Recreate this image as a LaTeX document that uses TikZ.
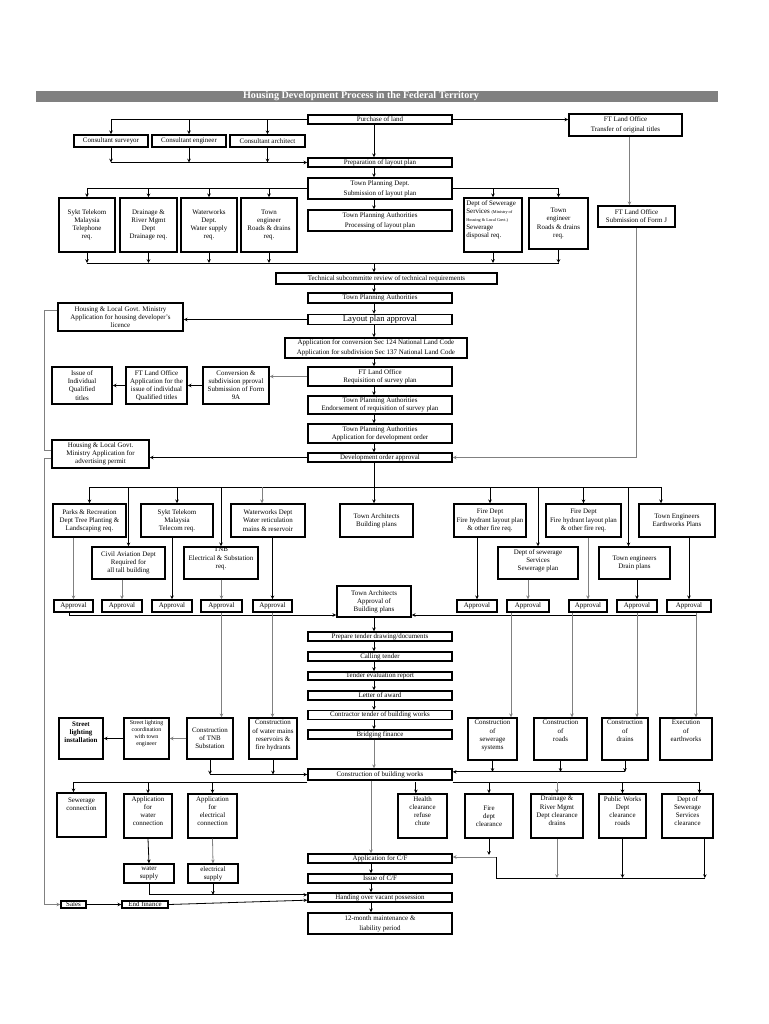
\documentclass[tikz,border=0pt]{standalone}
\usepackage{fontspec}
\setmainfont{Liberation Serif}
\usetikzlibrary{arrows.meta}
\definecolor{lngray}{gray}{0.5}
\newcommand{\boxfont}{\fontsize{5.2}{6.1}\selectfont}
\newcommand{\pbox}[7][]{\node[box,minimum width={(#5-#3)*0.75pt},minimum height={(#6-#4)*0.75pt},#1] (#2) at ({(#3+#5)/2},{(#4+#6)/2}) {#7};}

\begin{document}
\begin{tikzpicture}[x=0.75pt,y=-0.75pt,line width=0.6pt,>={Stealth[length=2.8pt,width=2.6pt]},
box/.style={draw,line width=1.1pt,inner sep=0.8pt,align=center,font=\boxfont},
lbl/.style={anchor=north,align=center,font=\boxfont,inner sep=2pt},
tl/.style={label={[lbl]north:{#1}}},
gl/.style={draw=lngray}]
\useasboundingbox (0,0) rectangle (768,1024);
\fill[lngray] (36,91) rectangle (718,102);
\node[text=white,inner sep=0pt,font=\fontsize{7.6}{8}\selectfont\bfseries] (title) at (361,96.5) {Housing Development Process in the Federal Territory};
\coordinate (sp) at (374,0);
\coordinate (sp2) at (371,0);

\pbox{pland}{308}{115}{452}{124}{Purchase of land}
\pbox{ftrans}{569}{114}{682}{136}{FT Land Office\\[1.5pt]Transfer of original titles}
\pbox{csurv}{74}{135}{148}{147}{Consultant surveyor}
\pbox{ceng}{152}{135}{226}{147}{Consultant engineer}
\pbox{carch}{230}{135}{305}{147}{Consultant architect}
\pbox{prep}{308}{158}{452}{167}{Preparation of layout plan}
\pbox{tpdept}{308}{178}{452}{199}{Town Planning Dept.\\[1.5pt]Submission of layout plan}
\pbox{tpproc}{308}{210}{452}{231}{Town Planning Authorities\\[1.5pt]Processing of layout plan}
\pbox{stel}{59}{198}{115}{252}{Sykt Telekom\\Malaysia\\Telephone\\req.}
\pbox{drain}{120}{198}{177}{252}{Drainage \&\\River Mgmt\\Dept\\Drainage req.}
\pbox{water}{181}{198}{237}{252}{Waterworks\\Dept.\\Water supply\\req.}
\pbox{teng}{241}{198}{297}{252}{Town\\engineer\\Roads \& drains\\req.}
\pbox[label={[lbl,anchor=north west,align=left]north west:{Dept of Sewerage\\Services {\fontsize{3.2}{4}\selectfont(Ministry of}\\{\fontsize{3.2}{4}\selectfont Housing \& Local Govt.)}\\Sewerage\\disposal req.}}]{dsew}{464}{198}{522}{252}{}
\pbox{teng2}{529}{198}{588}{249}{Town\\engineer\\Roads \& drains\\req.}
\pbox{formj}{598}{206}{675}{227}{FT Land Office\\Submission of Form J}
\pbox{tech}{276}{273}{497}{284}{Technical subcommitte review of technical requirements}
\pbox{tpa}{308}{293}{452}{303}{Town Planning Authorities}
\pbox[font=\fontsize{6.5}{7}\selectfont]{lpa}{308}{315}{452}{324}{Layout plan approval}
\pbox{hlic}{58}{303}{183}{331}{Housing \& Local Govt. Ministry\\Application for housing developer's\\licence}
\pbox{appconv}{285}{338}{467}{358}{Application for conversion Sec 124 National Land Code\\[1.5pt]Application for subdivision Sec 137 National Land Code}
\pbox{reqs}{308}{367}{452}{386}{FT Land Office\\Requisition of survey plan}
\pbox{endo}{308}{396}{452}{414}{Town Planning Authorities\\Endorsement of requisition of survey plan}
\pbox{appdo}{308}{424}{452}{443}{Town Planning Authorities\\Application for development order}
\pbox{doa}{308}{453}{452}{462}{Development order approval}
\pbox{iss}{52}{367}{112}{404}{Issue of\\Individual\\Qualified\\titles}
\pbox{ftapp}{126}{367}{187}{404}{FT Land Office\\Application for the\\issue of individual\\Qualified titles}
\pbox{conv}{203}{367}{269}{404}{Conversion \&\\subdivision pproval\\Submission of Form\\9A}
\pbox{hadv}{52}{440}{149}{468}{Housing \& Local Govt.\\Ministry Application for\\advertising permit}

\pbox{parks}{53}{504}{126}{537}{Parks \& Recreation\\Dept Tree Planting \&\\Landscaping req.}
\pbox{stel2}{141}{504}{213}{537}{Sykt Telekom\\Malaysia\\Telecom req.}
\pbox{water2}{231}{504}{305}{537}{Waterworks Dept\\Water reticulation\\mains \& reservoir}
\pbox{tabp}{340}{504}{413}{537}{Town Architects\\Building plans}
\pbox{fire1}{454}{504}{526}{537}{Fire Dept\\Fire hydrant layout plan\\\& other fire req.}
\pbox{fire2}{546}{504}{621}{537}{Fire Dept\\Fire hydrant layout plan\\\& other fire req.}
\pbox{teart}{639}{504}{715}{537}{Town Engineers\\Earthworks Plans}
\pbox{civil}{92}{547}{165}{579}{Civil Aviation Dept\\Required for\\all tall building}
\pbox[label={[lbl,inner sep=0.5pt]north:{TNB\\Electrical \& Substation\\req.}}]{tnb}{184}{547}{258}{579}{}
\pbox[tl={Dept of sewerage\\Services\\Sewerage plan}]{dsew2}{498}{547}{578}{579}{}
\pbox{tdrain}{599}{547}{670}{579}{Town engineers\\Drain plans}
\foreach \n/\xa/\xb in {a1/54/93,a2/102/142,a3/152/192,a4/201/242,a5/253/292,a6/457/497,a7/507/549,a8/569/607,a9/617/657,a10/667/711}
  {\pbox{\n}{\xa}{600}{\xb}{612}{Approval}}
\pbox{taapp}{337}{586}{411}{617}{Town Architects\\Approval of\\Building plans}

\pbox{ptd}{308}{632}{452}{641}{Prepare tender drawing/documents}
\pbox{ct}{308}{652}{452}{661}{Calling tender}
\pbox{ter}{308}{672}{452}{680}{Tender evaluation report}
\pbox{loa}{308}{691}{452}{700}{Letter of award}
\pbox{ctb}{308}{711}{452}{719}{Contractor tender of building works}
\pbox{bf}{308}{730}{452}{739}{Bridging finance}
\pbox[label={[lbl,font=\boxfont\bfseries,inner sep=3pt]north:{Street\\lighting\\installation}}]{sli}{59}{718}{103}{759}{}
\pbox[label={[lbl,font=\fontsize{4.4}{5.3}\selectfont]north:{Street lighting\\coordination\\with town\\engineer}}]{slc}{124}{718}{169}{759}{}
\pbox{ctnb}{187}{718}{233}{759}{Construction\\of TNB\\Substation}
\pbox[tl={Construction\\of water mains\\reservoirs \&\\fire hydrants}]{cwm}{249}{718}{297}{759}{}
\pbox[tl={Construction\\of\\sewerage\\systems}]{csew}{468}{718}{517}{760}{}
\pbox[tl={Construction\\of\\roads}]{croad}{534}{718}{587}{760}{}
\pbox[tl={Construction\\of\\drains}]{cdrain}{602}{718}{648}{760}{}
\pbox[tl={Execution\\of\\earthworks}]{eearth}{660}{718}{712}{760}{}

\pbox{cbw}{308}{769}{452}{780}{Construction of building works}
\pbox[label={[lbl,inner sep=4pt]north:{Sewerage\\connection}}]{scon}{57}{793}{106}{837}{}
\pbox[tl={Application\\for\\water\\connection}]{awc}{124}{794}{172}{838}{}
\pbox[tl={Application\\for\\electrical\\connection}]{aec}{188}{794}{237}{838}{}
\pbox{wsup}{124}{864}{174}{883}{water\\supply}
\pbox{esup}{188}{864}{238}{883}{electrical\\supply}
\pbox{sales}{61}{901}{86}{908}{Sales}
\pbox{efin}{122}{901}{168}{908}{End finance}
\pbox[tl={Health\\clearance\\refuse\\chute}]{hcl}{398}{794}{447}{838}{}
\pbox{fcl}{465}{794}{513}{838}{Fire\\dept\\clearance}
\pbox[tl={Drainage \&\\River Mgmt\\Dept clearance\\drains}]{dcl}{531}{794}{583}{838}{}
\pbox[tl={Public Works\\Dept\\clearance\\roads}]{pcl}{599}{794}{646}{838}{}
\pbox[tl={Dept of\\Sewerage\\Services\\clearance}]{scl}{662}{794}{713}{838}{}
\pbox{acf}{308}{854}{452}{863}{Application for C/F}
\pbox{icf}{308}{874}{452}{883}{Issue of C/F}
\pbox{hov}{308}{893}{452}{902}{Handing over vacant possession}
\pbox{mnt}{308}{913}{452}{934}{12-month maintenance \&\\[1.5pt]liability period}

\foreach \a/\b in {pland/prep,prep/tpdept,tpdept/tpproc,tech/tpa,tpa/lpa,lpa/appconv,appconv/reqs,reqs/endo,endo/appdo,appdo/doa,doa/tabp,taapp/ptd,ptd/ct,ct/ter,ter/loa,loa/ctb,ctb/bf}
  {\draw[->] (\a.south -| sp) -- (\b.north -| sp);}
\draw[->] (pland.east) -- (pland.east -| ftrans.west);
\draw[->] (pland.west) -| (csurv.north);
\foreach \n in {ceng,carch} {\draw[->] (\n.north |- pland.west) -- (\n.north);}
\foreach \n in {csurv,ceng,carch} {\draw[->] (\n.south) -- (\n.south |- prep.west);}
\draw[->] (csurv.south |- prep.west) -- (prep.west);
\draw[->] (tpdept.west) -| (stel.north);
\foreach \n in {drain,water,teng} {\draw[->] (\n.north |- tpdept.west) -- (\n.north);}
\draw[->] (tpdept.east) -| (teng2.north);
\draw[->] (dsew.north |- tpdept.east) -- (dsew.north);
\coordinate (b1) at (374,263);
\foreach \n in {stel,drain,water,teng,dsew,teng2} {\draw[->] (\n.south) -- (\n.south |- b1);}
\draw (stel.south |- b1) -- (teng2.south |- b1);
\draw[->] (b1) -- (tech.north -| b1);
\draw[gl,->] ([xshift=3pt]ftrans.south) -- ([xshift=3pt]ftrans.south |- formj.north);
\draw[gl,->] (formj.south) |- (doa.east);
\draw[->] (lpa.west) -- (lpa.west -| hlic.east);
\draw[gl,->] (reqs.west) -- (reqs.west -| conv.east);
\draw[->] (conv.west) -- (ftapp.east);
\draw[->] (ftapp.west) -- (iss.east);
\draw[->] (doa.west) -- (doa.west -| hadv.east);
\draw[gl] ([yshift=5pt]hlic.west) -| ([xshift=-5.25pt,yshift=3pt]hadv.west) -- ([yshift=3pt]hadv.west);
\draw[gl,->] ([yshift=-3pt]hadv.west) -- ++(-5.25pt,0) |- (sales.west);

\coordinate (b2) at (374,487);
\draw (parks.north |- b2) -- ([xshift=-12pt]teart.north |- b2);
\foreach \n in {parks,civil,stel2,tnb,fire1,dsew2,fire2} {\draw[->] (\n.north |- b2) -- (\n.north);}
\draw[gl,->] ([xshift=-4.5pt]water2.north |- b2) -- ([xshift=-4.5pt]water2.north);
\draw[->] ([xshift=-4.5pt]tdrain.north |- b2) -- ([xshift=-4.5pt]tdrain.north);
\draw[->] ([xshift=-12pt]teart.north |- b2) -- ([xshift=-12pt]teart.north);
\foreach \a/\b in {a1/parks,a2/civil,a4/tnb,a7/dsew2,a8/fire2} {\draw[gl,->] (\a.north |- \b.south) -- (\a.north);}
\foreach \a/\b in {a3/stel2,a5/water2,a6/fire1,a9/tdrain,a10/teart} {\draw[->] (\a.north |- \b.south) -- (\a.north);}
\coordinate (b3l) at (69,615);
\coordinate (b3r) at (696,615);
\draw[->] (a1.south -| b3l) -- (b3l) -- (b3l -| taapp.west);
\draw[->] (b3r) -- (b3r -| taapp.east);
\draw[gl,->] (a4.south) -- (a4.south |- ctnb.north);
\draw[gl,->] (a5.south) -- (a5.south |- cwm.north);
\draw[gl,->] ([xshift=-12.75pt]a7.south) -- ([xshift=-12.75pt]a7.south |- csew.north);
\draw[gl,->] ([xshift=-12pt]a8.south) -- ([xshift=-12pt]a8.south |- croad.north);
\draw[gl,->] (a9.south) -- (a9.south |- cdrain.north);
\draw[gl,->] (a10.south -| b3r) -- (b3r |- eearth.north);

\draw[gl,->] (ctnb.west) -- (slc.east);
\draw[->] (slc.west) -- (sli.east);
\foreach \n in {ctnb,cwm} {\draw[->] (\n.south) -- (\n.south |- cbw.west);}
\draw[->] (ctnb.south |- cbw.west) -- (cbw.west);
\foreach \n in {csew,croad,cdrain} {\draw[->] (\n.south) -- ([yshift=2pt]\n.south |- cbw.east);}
\draw[->] ([yshift=2pt]cdrain.south |- cbw.east) -- ([yshift=2pt]cbw.east);
\draw[gl,->] (bf.south -| sp) -- (cbw.north -| sp);

\coordinate (b4) at (371,782);
\draw (cbw.south west |- b4) -- ([xshift=-6pt]scon.north |- b4);
\draw[->] ([xshift=-6pt]scon.north |- b4) -- ([xshift=-6pt]scon.north);
\foreach \n in {awc,aec} {\draw[->] (\n.north |- b4) -- (\n.north);}
\draw (cbw.south east |- b4) -- ([xshift=9pt]scl.north |- b4);
\foreach \n in {fcl,pcl} {\draw[->] (\n.north |- b4) -- (\n.north);}
\draw[->] ([xshift=-5pt]hcl.north |- b4) -- ([xshift=-5pt]hcl.north);
\draw[gl,->] (dcl.north |- b4) -- (dcl.north);
\draw[->] ([xshift=9pt]scl.north |- b4) -- ([xshift=9pt]scl.north);
\coordinate (b6) at (496,878);
\coordinate (b7) at (496,857);
\draw[->] (fcl.south) -- ([yshift=1.5pt]fcl.south |- b7);
\draw[gl,->] (b7) -- (b7 -| acf.east);
\draw (b7) -- (b6) -- ([xshift=13pt]scl.south |- b6);
\draw[gl,->] (dcl.south) -- (dcl.south |- b6);
\draw[->] (pcl.south) -- (pcl.south |- b6);
\draw[->] ([xshift=13pt]scl.south) -- ([xshift=13pt]scl.south |- b6);
\draw[gl,->] (cbw.south -| sp2) -- (acf.north -| sp2);
\foreach \a/\b in {acf/icf,icf/hov,hov/mnt} {\draw[->] (\a.south -| sp2) -- (\b.north -| sp2);}
\draw[->] (awc.south) -- (wsup.north);
\draw[gl,->] (aec.south) -- (esup.north);
\coordinate (b5) at ([yshift=2pt]hov.west);
\draw[->] (wsup.south) |- (b5);
\draw[->] (esup.south) -- (esup.south |- b5);
\draw[->] (sales.east) -- (efin.west);
\draw[->] (efin.east) -- ([yshift=-2pt]hov.west);
\end{tikzpicture}
\end{document}
